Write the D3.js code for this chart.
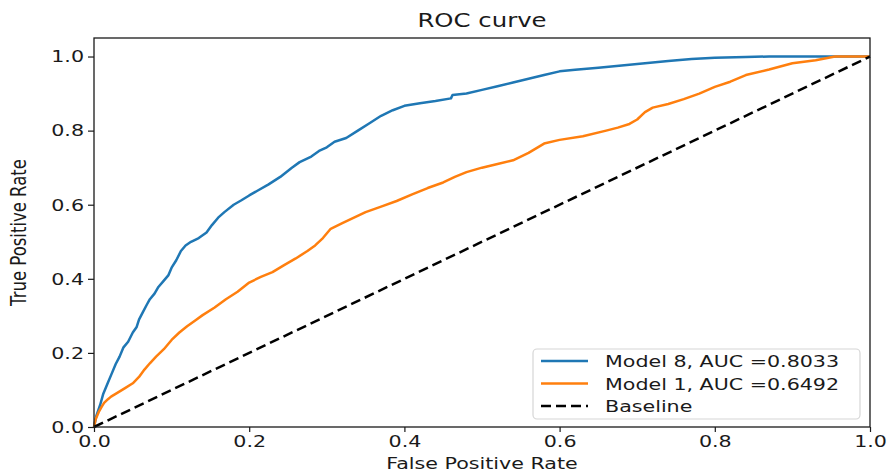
<!DOCTYPE html>
<html>
<head>
<meta charset="utf-8">
<script src="https://cdn.jsdelivr.net/npm/d3@7/dist/d3.min.js"></script>
<style>
  html, body { margin: 0; padding: 0; background: #fff; }
  svg { display: block; }
  text { font-family: "DejaVu Sans", sans-serif; fill: #1a1a1a; }
</style>
</head>
<body>
<svg id="chart" width="888" height="472"></svg>
<script>
// ---- Data ----
const model8Fpr = [0,0.003,0.008,0.012,0.018,0.022,0.028,0.033,0.038,0.044,0.05,0.055,0.058,0.063,0.068,0.072,0.078,0.083,0.09,0.096,0.1,0.106,0.112,0.118,0.125,0.135,0.145,0.152,0.16,0.168,0.18,0.19,0.2,0.21,0.225,0.24,0.255,0.265,0.28,0.29,0.3,0.31,0.325,0.34,0.355,0.37,0.385,0.4,0.42,0.44,0.46,0.462,0.48,0.5,0.52,0.54,0.56,0.58,0.6,0.62,0.65,0.68,0.71,0.74,0.77,0.8,0.84,0.87,1];
const model8Tpr = [0,0.03,0.06,0.09,0.12,0.14,0.17,0.19,0.215,0.23,0.255,0.27,0.29,0.31,0.33,0.345,0.36,0.378,0.395,0.41,0.43,0.45,0.475,0.49,0.5,0.51,0.525,0.545,0.565,0.58,0.6,0.612,0.625,0.637,0.655,0.675,0.7,0.715,0.73,0.745,0.755,0.77,0.78,0.8,0.82,0.84,0.855,0.867,0.874,0.88,0.887,0.896,0.9,0.91,0.92,0.93,0.94,0.95,0.96,0.964,0.97,0.976,0.982,0.988,0.993,0.997,0.999,1,1];
const model1Fpr = [0,0.002,0.006,0.01,0.013,0.018,0.022,0.03,0.04,0.05,0.058,0.065,0.072,0.08,0.09,0.1,0.11,0.12,0.13,0.14,0.155,0.17,0.185,0.2,0.215,0.23,0.245,0.26,0.275,0.285,0.295,0.305,0.32,0.335,0.35,0.37,0.39,0.41,0.43,0.45,0.465,0.48,0.5,0.52,0.54,0.56,0.58,0.6,0.63,0.66,0.675,0.69,0.7,0.71,0.72,0.74,0.76,0.78,0.8,0.82,0.84,0.87,0.9,0.93,0.955,1];
const model1Tpr = [0,0.02,0.04,0.055,0.065,0.075,0.082,0.092,0.105,0.118,0.135,0.155,0.172,0.19,0.21,0.235,0.255,0.272,0.287,0.302,0.322,0.345,0.365,0.39,0.405,0.418,0.437,0.455,0.475,0.49,0.51,0.535,0.55,0.565,0.58,0.595,0.61,0.628,0.645,0.66,0.675,0.688,0.7,0.71,0.72,0.74,0.765,0.775,0.785,0.8,0.808,0.818,0.83,0.85,0.862,0.872,0.885,0.9,0.918,0.932,0.95,0.965,0.982,0.99,1,1];
const baselineX = [0, 1];
const baselineY = [0, 1];
const xTicks = [0, 0.2, 0.4, 0.6, 0.8, 1.0];
const yTicks = [0, 0.2, 0.4, 0.6, 0.8, 1.0];
const legendLabels = ["Model 8, AUC =0.8033", "Model 1, AUC =0.6492", "Baseline"];
const seriesColors = ["#1f77b4", "#ff7f0e", "#000000"];

// ---- Layout ----
const SX = 1.25; // horizontal text stretch of the reference
const LW = 2.5;
const svg = d3.select("#chart");
const mLeft = 94, mRight = 870, mTop = 38, mBottom = 427;
const x = d3.scaleLinear().domain([0, 1]).range([mLeft, mRight]);
const y = d3.scaleLinear().domain([0, 1.05]).range([mBottom, mTop]);

function zip(a, b) { return a.map((v, i) => [v, b[i]]); }
const line = d3.line().x(d => x(d[0])).y(d => y(d[1]));

const plot = svg.append("g");
plot.append("path").datum(zip(model8Fpr, model8Tpr))
  .attr("d", line).attr("fill", "none").attr("stroke", seriesColors[0])
  .attr("stroke-width", LW).attr("stroke-linejoin", "round");
plot.append("path").datum(zip(model1Fpr, model1Tpr))
  .attr("d", line).attr("fill", "none").attr("stroke", seriesColors[1])
  .attr("stroke-width", LW).attr("stroke-linejoin", "round");
plot.append("path").datum(zip(baselineX, baselineY))
  .attr("d", line).attr("fill", "none").attr("stroke", seriesColors[2])
  .attr("stroke-width", LW).attr("stroke-dasharray", "10,5");

// ---- Frame ----
svg.append("rect").attr("x", mLeft).attr("y", mTop)
  .attr("width", mRight - mLeft).attr("height", mBottom - mTop)
  .attr("fill", "none").attr("stroke", "#1a1a1a").attr("stroke-width", 1.3);

// ---- Axes ----
const fmt = d3.format(".1f");
const xAxis = svg.append("g").attr("transform", `translate(0,${mBottom})`)
  .call(d3.axisBottom(x).tickValues(xTicks).tickFormat(fmt).tickSize(5).tickPadding(3));
const yAxis = svg.append("g").attr("transform", `translate(${mLeft},0)`)
  .call(d3.axisLeft(y).tickValues(yTicks).tickFormat(fmt).tickSize(6).tickPadding(4));
[xAxis, yAxis].forEach(g => {
  g.select(".domain").remove();
  g.selectAll(".tick line").attr("stroke", "#1a1a1a").attr("stroke-width", 1.2);
  g.selectAll(".tick text").attr("font-size", 16.5).attr("fill", "#1a1a1a")
    .attr("font-family", "DejaVu Sans");
});
xAxis.selectAll(".tick text").attr("transform", `scale(${SX},1)`);
yAxis.selectAll(".tick text").each(function () {
  const t = d3.select(this);
  const xx = +t.attr("x");
  t.attr("transform", `translate(${xx},0) scale(${SX},1)`).attr("x", 0);
});

// ---- Title and labels ----
svg.append("text").attr("transform", `translate(${(mLeft + mRight) / 2},27) scale(${SX},1)`)
  .attr("text-anchor", "middle").attr("font-size", 19.5).text("ROC curve");
svg.append("text").attr("transform", `translate(${(mLeft + mRight) / 2},469) scale(${SX},1)`)
  .attr("text-anchor", "middle").attr("font-size", 16.5).text("False Positive Rate");
svg.append("text").attr("transform", `translate(26,${(mTop + mBottom) / 2}) scale(${SX},1) rotate(-90)`)
  .attr("text-anchor", "middle").attr("font-size", 16.5).text("True Positive Rate");

// ---- Legend ----
const lg = svg.append("g");
lg.append("rect").attr("x", 533).attr("y", 349).attr("width", 327).attr("height", 70)
  .attr("rx", 4).attr("fill", "#fff").attr("fill-opacity", 0.85)
  .attr("stroke", "#d6d6d6").attr("stroke-width", 1.2);
legendLabels.forEach((lab, i) => {
  const yy = 361 + i * 22.5;
  lg.append("line").attr("x1", 541).attr("x2", 588).attr("y1", yy).attr("y2", yy)
    .attr("stroke", seriesColors[i]).attr("stroke-width", LW)
    .attr("stroke-dasharray", i === 2 ? "10,5" : null);
  lg.append("text").attr("transform", `translate(605,${yy + 6}) scale(${SX},1)`)
    .attr("font-size", 16.5).text(lab);
});
</script>
</body>
</html>
